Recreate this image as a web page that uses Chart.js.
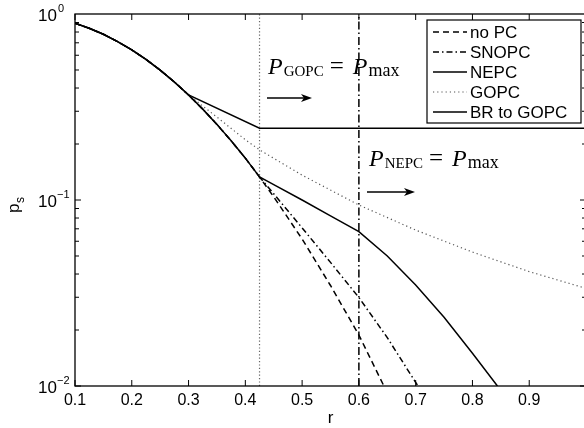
<!DOCTYPE html>
<html lang="en">
<head>
<meta charset="UTF-8" />
<title>p_s versus r</title>
<script src="https://cdn.jsdelivr.net/npm/chart.js"></script>
<style>
  html, body { margin: 0; padding: 0; background: #fff; overflow: hidden; }
  #wrap { width: 592px; height: 428px; }
</style>
</head>
<body>
<div id="wrap"><canvas id="psChart" width="592" height="428"></canvas></div>
<script>
// values (r, p_s)
const rCommon  = [0.1, 0.125, 0.15, 0.175, 0.2, 0.225, 0.25, 0.275, 0.3, 0.325, 0.35, 0.375, 0.4, 0.425];
const psCommon = [0.891, 0.838, 0.778, 0.711, 0.641, 0.570, 0.499, 0.431, 0.367, 0.308, 0.255, 0.208, 0.168, 0.133];

const rNoPC  = [0.45, 0.5, 0.55, 0.6, 0.644];
const psNoPC = [0.104, 0.0617, 0.0347, 0.0188, 0.0100];

const rSNOPC  = [0.45, 0.5, 0.55, 0.6, 0.65, 0.704];
const psSNOPC = [0.108, 0.0708, 0.0462, 0.0299, 0.0182, 0.0100];

const rNEPC  = [0.45, 0.5, 0.55, 0.6, 0.65, 0.7, 0.75, 0.8, 0.844];
const psNEPC = [0.121, 0.100, 0.0822, 0.0676, 0.050, 0.0349, 0.0234, 0.0150, 0.0100];

const rGOPC  = [0.35, 0.4, 0.425, 0.5, 0.6, 0.7, 0.8, 0.9, 1.0];
const psGOPC = [0.279, 0.211, 0.186, 0.136, 0.094, 0.0689, 0.0525, 0.0412, 0.0335];

const rBR  = [0.425, 1.0];
const psBR = [0.243, 0.243];

const rGopcMax = 0.425;   // P_GOPC = P_max from here on
const rNepcMax = 0.6;     // P_NEPC = P_max from here on

const xTicks = [0.1, 0.2, 0.3, 0.4, 0.5, 0.6, 0.7, 0.8, 0.9, 1.0];
const xTickLabels = ['0.1', '0.2', '0.3', '0.4', '0.5', '0.6', '0.7', '0.8', '0.9', ''];
const yTicks = [1, 0.1, 0.01];
const yTickExp = ['0', '\u22121', '\u22122'];

const legendNames = ['no PC', 'SNOPC', 'NEPC', 'GOPC', 'BR to GOPC'];

function pts(xs, ys) {
  return xs.map((v, i) => ({ x: v, y: ys[i] }));
}
// curves share the no-PC part up to their first break point
const upTo = lim => rCommon.filter(v => v <= lim);
const common = lim => pts(upTo(lim), psCommon.slice(0, upTo(lim).length));

const styles = [
  { dash: [6, 4], width: 1.5, color: '#000' },
  { dash: [6, 3, 1.5, 3], width: 1.5, color: '#000' },
  { dash: [], width: 1.5, color: '#000' },
  { dash: [1.2, 3], width: 1.2, color: '#555' },
  { dash: [], width: 1.5, color: '#000' }
];

const series = [
  common(0.425).concat(pts(rNoPC, psNoPC)),
  common(0.425).concat(pts(rSNOPC, psSNOPC)),
  common(0.425).concat(pts(rNEPC, psNEPC)),
  common(0.3).concat(pts(rGOPC, psGOPC)),
  common(0.3).concat(pts(rBR, psBR))
];

const datasets = series.map((d, i) => ({
  label: legendNames[i],
  data: d,
  borderColor: styles[i].color,
  borderWidth: styles[i].width,
  borderDash: styles[i].dash,
  pointRadius: 0,
  tension: 0,
  fill: false
}));

// the two vertical marker lines
datasets.push({
  label: 'gopc limit',
  data: pts([rGopcMax, rGopcMax], [0.01, 1]),
  borderColor: '#666', borderWidth: 1.2, borderDash: [1.2, 2.2], pointRadius: 0
});
datasets.push({
  label: 'nepc limit',
  data: pts([rNepcMax, rNepcMax], [0.01, 1]),
  borderColor: '#000', borderWidth: 1.5, borderDash: [8, 3, 1.5, 3], pointRadius: 0
});

function seg(ctx, x1, y1, x2, y2) {
  ctx.beginPath(); ctx.moveTo(x1, y1); ctx.lineTo(x2, y2); ctx.stroke();
}

function arrow(ctx, x1, x2, y) {
  ctx.setLineDash([]);
  ctx.lineWidth = 1.5;
  seg(ctx, x1, y, x2 - 6, y);
  ctx.beginPath();
  ctx.moveTo(x2, y);
  ctx.lineTo(x2 - 11, y - 4);
  ctx.lineTo(x2 - 8, y);
  ctx.lineTo(x2 - 11, y + 4);
  ctx.closePath();
  ctx.fill();
}

// P_sub = P_max, laid out piece by piece
function mathLabel(ctx, x, y, subText) {
  const it = 'italic 24px "Liberation Serif", "DejaVu Serif", serif';
  const rm = '25px "Liberation Serif", "DejaVu Serif", serif';
  const sub = '15px "Liberation Serif", "DejaVu Serif", serif';
  const mx = '18px "Liberation Serif", "DejaVu Serif", serif';
  ctx.textAlign = 'left';
  ctx.textBaseline = 'alphabetic';
  let cx = x;
  ctx.font = it; ctx.fillText('P', cx, y); cx += ctx.measureText('P').width + 1;
  ctx.font = sub; ctx.fillText(subText, cx, y + 2); cx += ctx.measureText(subText).width + 6;
  ctx.font = rm; ctx.fillText('=', cx, y); cx += ctx.measureText('=').width + 9;
  ctx.font = it; ctx.fillText('P', cx, y); cx += ctx.measureText('P').width + 1;
  ctx.font = mx; ctx.fillText('max', cx, y + 2);
}

const axesPlugin = {
  id: 'matlabAxes',
  afterDatasetsDraw(chart) {
    const { ctx, chartArea: a, scales: { x, y } } = chart;
    ctx.save();
    ctx.strokeStyle = '#000';
    ctx.fillStyle = '#000';
    ctx.setLineDash([]);
    ctx.lineWidth = 1.3;
    ctx.strokeRect(a.left, a.top, a.right - a.left, a.bottom - a.top);

    ctx.lineWidth = 1;
    // x ticks, pointing inward
    xTicks.forEach((v, i) => {
      const px = x.getPixelForValue(v);
      seg(ctx, px, a.bottom, px, a.bottom - 6);
      seg(ctx, px, a.top, px, a.top + 6);
      ctx.font = '16px "Liberation Sans", Arial, sans-serif';
      ctx.textAlign = 'center';
      ctx.textBaseline = 'middle';
      ctx.fillText(xTickLabels[i], px, 401);
    });
    // y ticks, major and minor (log)
    for (let dec = 0.01; dec < 1; dec *= 10) {
      for (let m = 1; m <= 9; m++) {
        const py = y.getPixelForValue(dec * m);
        const len = m === 1 ? 6 : 4;
        seg(ctx, a.left, py, a.left + len, py);
        seg(ctx, a.right, py, a.right - len, py);
      }
    }
    yTicks.forEach((v, i) => {
      const py = y.getPixelForValue(v);
      ctx.textAlign = 'left';
      ctx.textBaseline = 'alphabetic';
      ctx.font = '17px "Liberation Sans", Arial, sans-serif';
      ctx.fillText('10', 38, py + 7);
      ctx.font = '11px "Liberation Sans", Arial, sans-serif';
      ctx.fillText(yTickExp[i], i === 0 ? 58 : 57, py - 2);
    });

    // axis titles
    ctx.font = '17px "Liberation Sans", Arial, sans-serif';
    ctx.textAlign = 'center';
    ctx.textBaseline = 'alphabetic';
    ctx.fillText('r', (a.left + a.right) / 2, 423);
    ctx.save();
    ctx.translate(19, 213);
    ctx.rotate(-Math.PI / 2);
    ctx.textAlign = 'left';
    ctx.font = '17px "Liberation Sans", Arial, sans-serif';
    ctx.fillText('p', 0, 0);
    const pw = ctx.measureText('p').width;
    ctx.font = '12px "Liberation Sans", Arial, sans-serif';
    ctx.fillText('s', pw + 0.5, 5);
    ctx.restore();

    // annotations
    mathLabel(ctx, 268, 74, 'GOPC');
    arrow(ctx, 267, 312, 98);
    mathLabel(ctx, 369, 166, 'NEPC');
    arrow(ctx, 367, 415, 192);

    // legend box
    const lx = 427, ly = 20, lw = 154, lh = 103;
    ctx.fillStyle = '#fff';
    ctx.fillRect(lx, ly, lw, lh);
    ctx.lineWidth = 1.2;
    ctx.strokeStyle = '#000';
    ctx.strokeRect(lx, ly, lw, lh);
    legendNames.forEach((name, i) => {
      const cy = 32 + i * 20;
      ctx.strokeStyle = styles[i].color;
      ctx.lineWidth = styles[i].width;
      ctx.setLineDash(styles[i].dash);
      seg(ctx, 433, cy, 467, cy);
      ctx.setLineDash([]);
      ctx.fillStyle = '#000';
      ctx.font = '17px "Liberation Sans", Arial, sans-serif';
      ctx.textAlign = 'left';
      ctx.textBaseline = 'middle';
      ctx.fillText(name, 470, cy + 1);
    });
    ctx.restore();
  }
};

new Chart(document.getElementById('psChart'), {
  type: 'line',
  data: { datasets: datasets },
  options: {
    responsive: false,
    animation: false,
    devicePixelRatio: 1,
    layout: { padding: { left: 75, right: 6, top: 14, bottom: 42 } },
    scales: {
      x: { type: 'linear', min: 0.1, max: 1.0, display: false },
      y: { type: 'logarithmic', min: 0.01, max: 1, display: false }
    },
    plugins: {
      legend: { display: false },
      tooltip: { enabled: false }
    }
  },
  plugins: [axesPlugin]
});
</script>
</body>
</html>
